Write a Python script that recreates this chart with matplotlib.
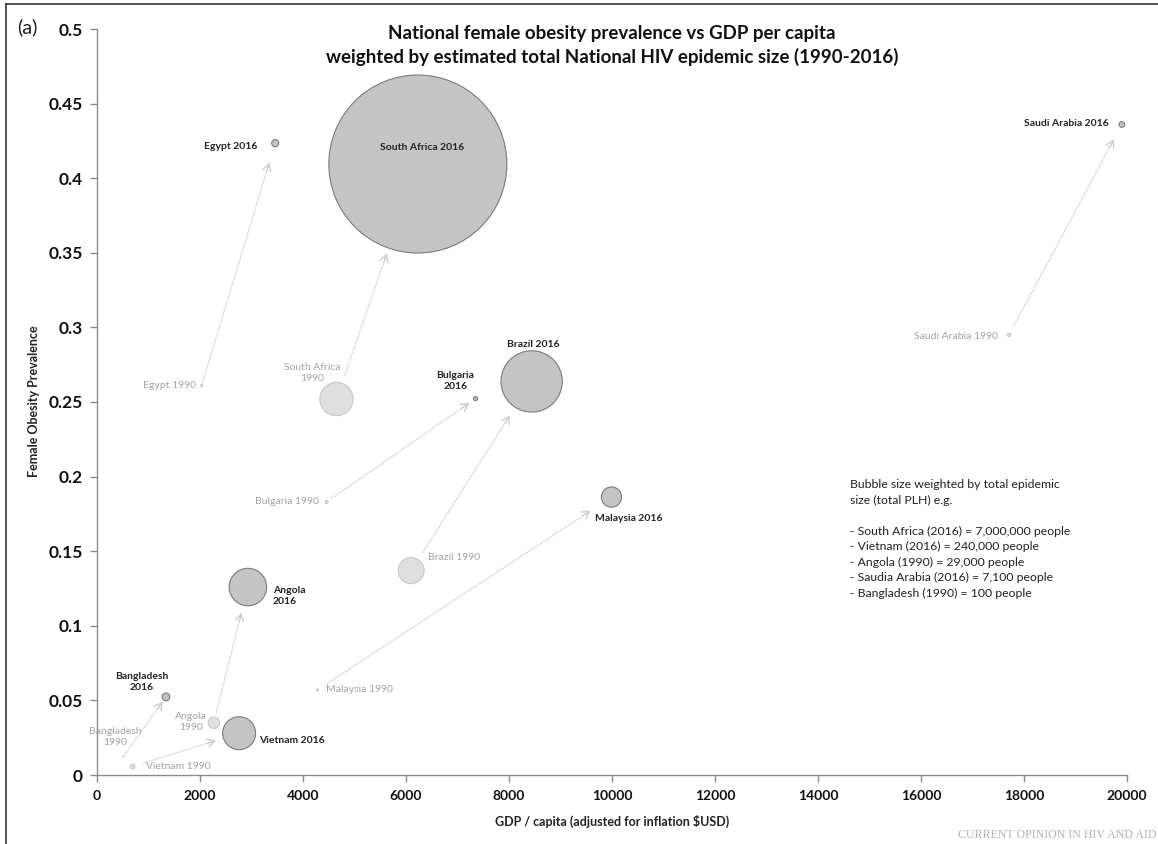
import numpy as np
import matplotlib
matplotlib.use("Agg")
import matplotlib.pyplot as plt
from matplotlib.lines import Line2D
from matplotlib.ticker import MultipleLocator, FuncFormatter

plt.rcParams['font.family'] = ['Lato', 'DejaVu Sans']

countries = ["Egypt", "South Africa", "Saudi Arabia", "Bulgaria", "Brazil",
             "Malaysia", "Angola", "Vietnam", "Bangladesh"]

# GDP per capita (inflation adjusted $USD)
gdp_1990 = [2030, 4650, 17710, 4460, 6100, 4280, 2270, 690, 510]
gdp_2016 = [3460, 6230, 19900, 7350, 8440, 9990, 2930, 2760, 1340]

# female obesity prevalence
obes_1990 = [0.261, 0.252, 0.295, 0.183, 0.137, 0.057, 0.035, 0.0056, 0.0122]
obes_2016 = [0.4235, 0.4095, 0.436, 0.2523, 0.2638, 0.1863, 0.126, 0.028, 0.0523]

# total people living with HIV (bubble area)
plh_1990 = [1000, 245000, 2500, 2000, 150000, 1000, 29000, 5000, 100]
plh_2016 = [11000, 7000000, 7100, 3500, 830000, 90000, 310000, 240000, 13000]

labels_1990 = ["Egypt 1990", "South Africa\n1990", "Saudi Arabia 1990", "Bulgaria 1990",
               "Brazil 1990", "Malaysia 1990", "Angola\n1990", "Vietnam 1990", "Bangladesh\n1990"]
labels_2016 = ["Egypt 2016", "South Africa 2016", "Saudi Arabia 2016", "Bulgaria\n2016",
               "Brazil 2016", "Malaysia 2016", "Angola\n2016", "Vietnam 2016", "Bangladesh\n2016"]

note_lines = ["Bubble size weighted by total epidemic",
              "size (total PLH) e.g.",
              "",
              "- South Africa (2016) = 7,000,000 people",
              "- Vietnam (2016) = 240,000 people",
              "- Angola (1990) = 29,000 people",
              "- Saudia Arabia (2016) = 7,100 people",
              "- Bangladesh (1990) = 100 people"]

# label placement: (dx px, dy px up, ha)
off_2016 = [(-18, -3, 'right'), (4, 17, 'center'), (-13, 1, 'right'), (-20, 18, 'center'),
            (2, 37, 'center'), (17, -21, 'center'), (25, -9, 'left'), (20, -7, 'left'),
            (-24, 15, 'center')]
off_1990 = [(-6, 0, 'right'), (-24, 26, 'center'), (-11, -2, 'right'), (-8, 0, 'right'),
            (17, 13, 'left'), (9, 0, 'left'), (-23, 1, 'center'), (13, 0, 'left'),
            (-8, 20, 'center')]
# gap (px) between arrow ends and bubble edges
gap_start = [0, 8, 8, 4, 8, 9, 5, 9, 1]
gap_tip = [17, 6, 14, 6, 10, 15, 8, 8, 2]

W, H, DPI = 1158, 844, 100
R_SA = 89.0  # px radius of the largest bubble
K = R_SA / np.sqrt(7000000)
PX2PT = 72.0 / DPI

def radius_px(plh):
    return K * np.sqrt(np.asarray(plh, float))

fig = plt.figure(figsize=(W / DPI, H / DPI), dpi=DPI)
ax = fig.add_axes([97 / W, (H - 775) / H, 1030 / W, 746 / H])
ax.set_xlim(0, 20000)
ax.set_ylim(0, 0.5)

r90 = radius_px(plh_1990)
r16 = radius_px(plh_2016)
ax.scatter(gdp_1990, obes_1990, s=(2 * r90 * PX2PT) ** 2, c='#dfdfdf',
           edgecolors='#c8c8c8', linewidths=0.8, zorder=3)
ax.scatter(gdp_2016, obes_2016, s=(2 * r16 * PX2PT) ** 2, c='#c4c4c4',
           edgecolors='#7a7a7a', linewidths=0.8, zorder=3)

# dotted arrows from 1990 to 2016
for i in range(len(countries)):
    p0 = ax.transData.transform((gdp_1990[i], obes_1990[i]))
    p1 = ax.transData.transform((gdp_2016[i], obes_2016[i]))
    u = (p1 - p0) / np.hypot(*(p1 - p0))
    a = p0 + u * (r90[i] + gap_start[i])
    b = p1 - u * (r16[i] + gap_tip[i])
    ax.annotate('', xy=b, xytext=a, xycoords='figure pixels', textcoords='figure pixels',
                arrowprops=dict(arrowstyle='-', color='#dadada', lw=1.0,
                                linestyle=(0, (1.2, 1.2)), shrinkA=0, shrinkB=0), zorder=2)
    ax.annotate('', xy=b, xytext=b - u * 9, xycoords='figure pixels', textcoords='figure pixels',
                arrowprops=dict(arrowstyle='->,head_length=0.5,head_width=0.3', color='#cdcdcd',
                                lw=1.0, shrinkA=0, shrinkB=0), zorder=2)

for i in range(len(countries)):
    dx, dy, ha = off_2016[i]
    ax.annotate(labels_2016[i], (gdp_2016[i], obes_2016[i]), xytext=(dx * PX2PT, dy * PX2PT),
                textcoords='offset points', ha=ha, va='center', fontsize=7.5,
                fontweight='bold', color='#222222', linespacing=1.3, zorder=4)
    dx, dy, ha = off_1990[i]
    ax.annotate(labels_1990[i], (gdp_1990[i], obes_1990[i]), xytext=(dx * PX2PT, dy * PX2PT),
                textcoords='offset points', ha=ha, va='center', fontsize=7.5,
                color='#a3a3a3', linespacing=1.3, zorder=4)

for side in ['top', 'right']:
    ax.spines[side].set_visible(False)
for side in ['left', 'bottom']:
    ax.spines[side].set_color('#8c8c8c')
    ax.spines[side].set_linewidth(1.0)
ax.xaxis.set_major_locator(MultipleLocator(2000))
ax.yaxis.set_major_locator(MultipleLocator(0.05))
ax.yaxis.set_major_formatter(FuncFormatter(lambda v, p: f"{v:.2f}".rstrip('0').rstrip('.') if v else "0"))
ax.tick_params(direction='out', length=5, width=1.0, color='#8c8c8c',
               labelcolor='#111111', pad=6)
ax.tick_params(axis='x', labelsize=10)
ax.tick_params(axis='y', labelsize=12.5, pad=5)
for t in ax.get_xticklabels() + ax.get_yticklabels():
    t.set_fontweight('bold')

ax.set_xlabel("GDP / capita (adjusted for inflation $USD)", fontsize=9, fontweight='bold',
              color='#222222', labelpad=9)
fig.text(34 / W, 1 - 401 / H, "Female Obesity Prevalence", rotation=90, ha='center',
         va='center', fontsize=9, fontweight='bold', color='#222222')

fig.text(612 / W, 1 - 33 / H, "National female obesity prevalence vs GDP per capita",
         ha='center', va='center', fontsize=13.5, fontweight='bold', color='#111111')
fig.text(612 / W, 1 - 57 / H, "weighted by estimated total National HIV epidemic size (1990-2016)",
         ha='center', va='center', fontsize=13.5, fontweight='bold', color='#111111')
fig.text(17 / W, 1 - 27 / H, "(a)", ha='left', va='center', fontsize=14.5, color='#222222')

fig.text(850 / W, 1 - 479 / H, "\n".join(note_lines), ha='left', va='top',
         fontsize=8.8, color='#222222', linespacing=1.5)

fig.text(1156 / W, 1 - 835 / H, "CURRENT OPINION IN HIV AND AID", ha='right', va='center',
         fontsize=8.6, color='#b4b4b4', family='Liberation Serif')

# outer frame
fig.add_artist(Line2D([6 / W, 6 / W], [0, 1 - 4 / H], color='#333333', lw=1.2))
fig.add_artist(Line2D([6 / W, 1], [1 - 4 / H, 1 - 4 / H], color='#333333', lw=1.2))

fig.savefig("out.png", dpi=DPI)
